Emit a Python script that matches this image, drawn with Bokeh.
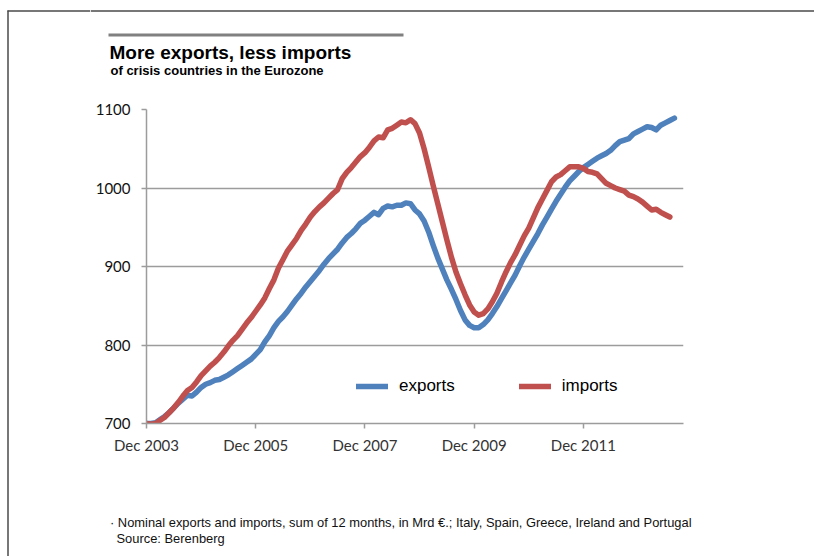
from bokeh.plotting import figure
from bokeh.models import Range1d, FixedTicker, Legend, LegendItem
from bokeh.layouts import column, row
from bokeh.core.properties import value
from bokeh.embed import file_html
from bokeh.resources import INLINE

# month index 0 = Dec 2003
exports = [700, 700, 701, 705, 709, 714, 720, 726, 731, 736,
           735, 740, 746, 750, 752, 755, 756, 759, 762, 766,
           770, 774, 778, 782, 788, 794, 804, 812, 822, 830,
           836, 843, 851, 859, 866, 874, 881, 888, 895, 903,
           910, 916, 922, 930, 937, 942, 948, 955, 959, 964,
           969, 966, 974, 977, 976, 978, 978, 981, 980, 972,
           967, 958, 944, 927, 911, 897, 883, 871, 858, 844,
           832, 825, 822, 822, 826, 832, 840, 849, 859, 869,
           879, 889, 901, 912, 922, 932, 942, 953, 963, 973,
           983, 992, 1001, 1009, 1015, 1021, 1026, 1030, 1034, 1038,
           1041, 1044, 1048, 1054, 1059, 1061, 1063, 1069, 1072, 1075,
           1078, 1077, 1074, 1080, 1083, 1086, 1089]
imports = [700, 699, 700, 704, 708, 714, 720, 727, 735, 742,
           746, 753, 761, 767, 773, 778, 784, 791, 799, 806,
           812, 820, 828, 835, 843, 851, 860, 872, 883, 898,
           909, 920, 928, 936, 946, 954, 963, 970, 976, 981,
           987, 993, 998, 1012, 1020, 1026, 1033, 1040, 1045, 1052,
           1060, 1065, 1064, 1074, 1076, 1080, 1084, 1083, 1087, 1082,
           1070, 1050, 1027, 1003, 980, 957, 934, 912, 893, 878,
           864, 851, 842, 838, 840, 846, 855, 866, 880, 893,
           905, 915, 927, 939, 949, 962, 975, 986, 997, 1008,
           1014, 1017, 1022, 1027, 1027, 1027, 1025, 1021, 1020, 1018,
           1012, 1006, 1003, 1000, 998, 996, 991, 989, 986, 982,
           977, 972, 973, 969, 966, 963]
months_exp = list(range(len(exports)))
months_imp = list(range(len(imports)))

tick_months = [0, 24, 48, 72, 96]
tick_labels = ["Dec 2003", "Dec 2005", "Dec 2007", "Dec 2009", "Dec 2011"]
y_ticks = [700, 800, 900, 1000, 1100]

title_text = "More exports, less imports"
subtitle_text = "of crisis countries in the Eurozone"
note1 = "\u00b7 Nominal exports and imports, sum of 12 months, in Mrd \u20ac.; Italy, Spain, Greece, Ireland and Portugal"
note2 = "Source: Berenberg"

GRID = "#9c9c9c"
BLUE = "#4F81BD"
RED = "#C0504D"
FRAME = "#4a4a4a"
FONT = "Liberation Sans"

SW = 90          # width of the left strip (page x 0..SW)
CW = 814 - SW    # width of the right column


def blank(w, h, xr, yr):
    f = figure(width=w, height=h, output_backend="svg", toolbar_location=None,
               title=None, x_range=Range1d(*xr), y_range=Range1d(*yr),
               x_axis_location=None, y_axis_location=None,
               min_border_left=0, min_border_right=0, min_border_top=0,
               min_border_bottom=0)
    f.outline_line_color = None
    f.grid.visible = False
    return f


# ---- left strip: full page height, holds the frame's left edge ----
strip = blank(SW, 556, (0, SW), (556, 0))
strip.segment(x0=[7.5, 7], y0=[10, 10.5], x1=[7.5, SW], y1=[556, 10.5],
              line_color=FRAME, line_width=1.5)

# ---- top band (page x SW..814, y 0..100) ----
top = blank(CW, 100, (SW, 814), (100, 0))
top.segment(x0=[SW], y0=[10.5], x1=[814], y1=[10.5], line_color=FRAME, line_width=1.5)
top.quad(left=[108], right=[403], top=[33], bottom=[36],
         fill_color="#808080", line_color=None)
top.text(x=[109], y=[51.5], text=[title_text], text_font=value(FONT),
         text_font_style="bold", text_font_size="19px",
         text_baseline="alphabetic", text_color="#000000")
top.text(x=[110], y=[70], text=[subtitle_text], text_font=value(FONT),
         text_font_style="bold", text_font_size="13px",
         text_baseline="alphabetic", text_color="#000000")

# ---- main chart (page x SW..814, y 100..456) ----
p = figure(width=CW, height=356, output_backend="svg", toolbar_location=None,
           title=None, x_range=Range1d(0, 118), y_range=Range1d(700, 1100),
           min_border_left=146 - SW, min_border_right=131, min_border_top=9,
           min_border_bottom=32)
p.outline_line_color = None
p.background_fill_color = "white"
p.border_fill_color = "white"

p.xaxis.ticker = FixedTicker(ticks=tick_months)
p.xaxis.major_label_overrides = {m: t for m, t in zip(tick_months, tick_labels)}
p.xaxis.minor_tick_line_color = None
p.xaxis.major_tick_in = 0
p.xaxis.major_tick_out = 5
p.xaxis.axis_line_color = GRID
p.xaxis.axis_line_width = 1.5
p.xaxis.major_tick_line_color = GRID
p.xaxis.major_tick_line_width = 1.5
p.xaxis.major_label_text_font = "Lato"
p.xaxis.major_label_text_font_size = "15px"
p.xaxis.major_label_text_color = "#333333"
p.xaxis.major_label_standoff = 7

p.yaxis.ticker = FixedTicker(ticks=y_ticks)
p.yaxis.minor_tick_line_color = None
p.yaxis.major_tick_in = 0
p.yaxis.major_tick_out = 5
p.yaxis.axis_line_color = GRID
p.yaxis.axis_line_width = 1.5
p.yaxis.major_tick_line_color = GRID
p.yaxis.major_tick_line_width = 1.5
p.yaxis.major_label_text_font = "Lato"
p.yaxis.major_label_text_font_size = "15px"
p.yaxis.major_label_text_color = "#111111"
p.yaxis.major_label_standoff = 11

p.xgrid.visible = False
p.ygrid.ticker = FixedTicker(ticks=y_ticks)
p.ygrid.grid_line_color = GRID
p.ygrid.grid_line_width = 1.5

r_exp = p.line(months_exp, exports, line_width=5.5, line_color=BLUE,
               line_cap="round", line_join="round")
r_imp = p.line(months_imp, imports, line_width=5.5, line_color=RED,
               line_cap="round", line_join="round")

legend = Legend(items=[LegendItem(label="exports", renderers=[r_exp]),
                       LegendItem(label="imports", renderers=[r_imp])],
                orientation="horizontal", location=(210, 27),
                glyph_width=32, glyph_height=20, label_standoff=11, spacing=64,
                padding=0, margin=0, border_line_color=None,
                background_fill_alpha=0,
                label_text_font=FONT, label_text_font_size="17px",
                label_text_color="#000000")
p.add_layout(legend)

# ---- bottom band (page x SW..814, y 456..556) ----
bottom = blank(CW, 100, (SW, 814), (556, 456))
bottom.text(x=[109.5], y=[522], text=[note1], text_font=value(FONT),
            text_font_size="12.9px", text_baseline="alphabetic", text_color="#111111")
bottom.text(x=[116], y=[538], text=[note2], text_font=value(FONT),
            text_font_size="12.9px", text_baseline="alphabetic", text_color="#111111")

# wrapping the chart in its own row keeps the column from aligning the bands' frames to it
layout = row(strip, column(top, row(p, spacing=0), bottom, spacing=0), spacing=0)

open("out.html", "w").write(file_html(layout, INLINE))
